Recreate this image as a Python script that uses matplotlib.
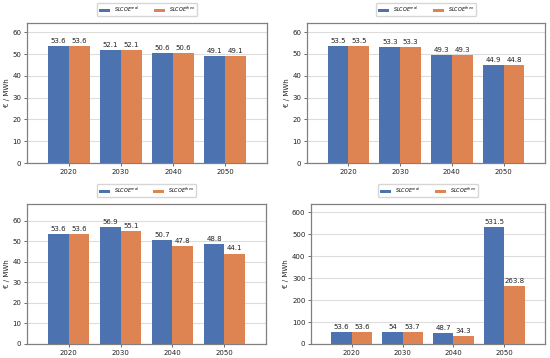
import matplotlib
matplotlib.use("Agg")
import matplotlib.pyplot as plt
import numpy as np

years = ["2020", "2030", "2040", "2050"]
real_a = [53.6, 52.1, 50.6, 49.1]
theo_a = [53.6, 52.1, 50.6, 49.1]
real_b = [53.5, 53.3, 49.3, 44.9]
theo_b = [53.5, 53.3, 49.3, 44.8]
real_c = [53.6, 56.9, 50.7, 48.8]
theo_c = [53.6, 55.1, 47.8, 44.1]
real_d = [53.6, 54, 48.7, 531.5]
theo_d = [53.6, 53.7, 34.3, 263.8]

panels = [(real_a, theo_a), (real_b, theo_b), (real_c, theo_c), (real_d, theo_d)]
rects = [
    (27, 267, 23, 163),
    (307, 545, 23, 163),
    (27, 266, 204, 344),
    (311, 545, 204, 344),
]
W, H = 550, 358
blue = "#4C72B0"
orange = "#DD8452"

fig = plt.figure(figsize=(5.5, 3.58), dpi=100)
for (real, theo), (l, r, t, b) in zip(panels, rects):
    ax = fig.add_axes([l / W, 1 - b / H, (r - l) / W, (b - t) / H])
    x = np.arange(len(years))
    w = 0.4
    b1 = ax.bar(x - w / 2, real, w, color=blue, label=r"$SLCOE^{real}$", zorder=3)
    b2 = ax.bar(x + w / 2, theo, w, color=orange, label=r"$SLCOE^{theo}$", zorder=3)
    fmt = lambda v: f"{v:g}"
    ax.bar_label(b1, labels=[fmt(v) for v in real], fontsize=5, padding=1.5, color="#222222")
    ax.bar_label(b2, labels=[fmt(v) for v in theo], fontsize=5, padding=1.5, color="#222222")
    ymax = max(max(real), max(theo)) * 1.2
    ax.set_ylim(0, ymax)
    ax.set_xlim(-0.8, 3.8)
    ax.set_xticks(x)
    ax.set_xticklabels(years)
    ax.tick_params(labelsize=5, length=2, width=0.6, color="#555555", pad=2, labelcolor="#222222")
    ax.set_ylabel("€ / MWh", fontsize=5, labelpad=2, color="#222222")
    ax.grid(axis="y", color="#dddddd", linewidth=0.8, zorder=0)
    ax.set_axisbelow(True)
    for s in ax.spines.values():
        s.set_color("#808080")
        s.set_linewidth(0.9)
    ax.legend(loc="lower center", bbox_to_anchor=(0.5, 1.05), ncol=2, fontsize=3.5,
              frameon=True, handlelength=2.3, handleheight=0.5, handletextpad=0.8,
              columnspacing=3.0, borderpad=0.4, borderaxespad=0,
              edgecolor="#cccccc", fancybox=True)

fig.savefig("out.png", dpi=100)
